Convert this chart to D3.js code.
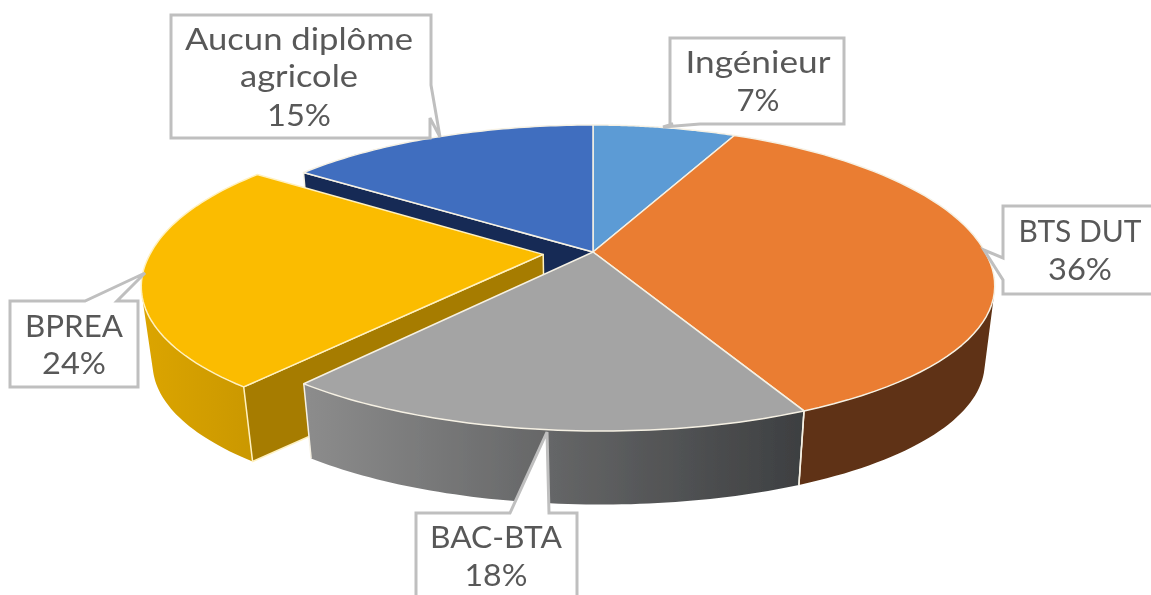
<!DOCTYPE html>
<html lang="fr">
<head>
<meta charset="utf-8">
<script src="https://d3js.org/d3.v7.min.js"></script>
<style>
  body { margin: 0; background: #fff; }
  svg { display: block; }
  text { font-family: Lato, "Open Sans", sans-serif; font-size: 30px; fill: #595959; text-anchor: middle; }
</style>
</head>
<body>
<div id="my_dataviz"></div>
<script>

// data
var categories = ["Ingénieur", "BTS DUT", "BAC-BTA", "BPREA", "Aucun diplôme agricole"];
var values = [7, 36, 18, 24, 15];
var labelLines = [["Ingénieur", "7%"], ["BTS DUT", "36%"], ["BAC-BTA", "18%"], ["BPREA", "24%"], ["Aucun diplôme", "agricole", "15%"]];
var colors = ["#5b9bd5", "#ea7d31", "#a4a4a4", "#fbbc00", "#3f6ebf"];

// layout of the callouts (not data)
var callouts = [
  {cx: 758, y: [73, 111], w: [145, 43], pts: [[670,38],[844,38],[844,124],[700,124],[663,127],[673,124],[670,124]]},
  {cx: 1080, y: [242, 280], w: [123, 64], pts: [[1003,206],[1170,206],[1170,294],[1003,294],[1003,280],[984,250],[1003,258]]},
  {cx: 496, y: [548, 586], w: [132, 63], pts: [[416,513],[510,513],[547,432],[549,513],[577,513],[577,620],[416,620]]},
  {cx: 74, y: [337, 374], w: [98, 64], pts: [[10,301],[85,301],[145,273],[117,301],[138,301],[138,387],[10,387]]},
  {cx: 299, y: [50, 87, 126], w: [228, 118, 64], pts: [[171,15],[431,15],[431,85],[440,137],[430,118],[430,138],[171,138]]}
];

var width = 1151, height = 595;
var centerX = 593, centerY = 252;
var radiusX = 392, radiusY = 148.6, perspX = 0.2, perspY = 0.17;
var shearNear = 8, shearFar = 12;
var depth = 78, bottomScale = 0.975;
var explode = [0, 0, 0, 0.128, 0];

var svg = d3.select("#my_dataviz").append("svg")
  .attr("width", width)
  .attr("height", height);

var defs = svg.append("defs");
defs.append("filter").attr("id", "soft")
  .append("feGaussianBlur").attr("stdDeviation", 0.5);

function addGradient(id, x1, x2, c1, c2) {
  var g = defs.append("linearGradient").attr("id", id)
    .attr("gradientUnits", "userSpaceOnUse")
    .attr("x1", x1).attr("x2", x2).attr("y1", 0).attr("y2", 0);
  g.append("stop").attr("offset", 0).attr("stop-color", c1);
  g.append("stop").attr("offset", 1).attr("stop-color", c2);
}
addGradient("wallGray", 307, 803, "#8c8c8c", "#3d3f41");
addGradient("wallYellow", 140, 260, "#dca500", "#c99700");

var pie = d3.pie().sort(null)(values);
var line = d3.line();

// u,v are on the pie disc (v = 1 is the far side), z 0 = top, 1 = bottom
function project(u, v, z) {
  var f = z ? bottomScale : 1;
  var sx = f / (1 + perspX * v), sy = f / (1 + perspY * v);
  // the picture is not quite symmetric, nudge the near side and far left
  var skew = v < 0 ? -shearNear * v : shearFar * v * Math.min(0, u);
  return [centerX + radiusX * u * sx + skew, centerY - radiusY * v * sy + z * depth];
}

function offset(i) {
  var d = pie[i], mid = (d.startAngle + d.endAngle) / 2;
  return [explode[i] * Math.sin(mid), explode[i] * Math.cos(mid)];
}

function rimPoint(i, a, z) {
  var o = offset(i);
  return project(Math.sin(a) + o[0], Math.cos(a) + o[1], z);
}

function centerPoint(i, z) {
  var o = offset(i);
  return project(o[0], o[1], z);
}

function arcPoints(i, a0, a1, z) {
  var n = 60;
  return d3.range(n + 1).map(function(k) { return rimPoint(i, a0 + (a1 - a0) * k / n, z); });
}

function topPath(i) {
  var d = pie[i];
  return line([centerPoint(i, 0)].concat(arcPoints(i, d.startAngle, d.endAngle, 0))) + "Z";
}

// one small quad per step so the silhouette between both rims gets filled too.
// all quads wound the same way, otherwise overlaps cancel out
function wallPath(i, a0, a1) {
  var top = arcPoints(i, a0, a1, 0), bottom = arcPoints(i, a0, a1, 1);
  return d3.range(top.length - 1).map(function(k) {
    var q = [top[k], top[k + 1], bottom[k + 1], bottom[k]];
    if (d3.polygonArea(q) < 0) q.reverse();
    return line(q) + "Z";
  }).join("");
}

function cutPath(i, a) {
  return line([centerPoint(i, 0), rimPoint(i, a, 0), rimPoint(i, a, 1), centerPoint(i, 1)]) + "Z";
}

var rimStroke = "#f6f1e4";
var chart = svg.append("g").attr("filter", "url(#soft)");

function drawShape(path, fill, stroke) {
  chart.append("path")
    .attr("d", path)
    .attr("fill", fill)
    .attr("stroke", stroke || rimStroke)
    .attr("stroke-width", 1.5)
    .attr("stroke-linejoin", "round");
}

function drawWall(i, a0, a1, fill) {
  chart.append("path").attr("d", wallPath(i, a0, a1)).attr("fill", fill);
}

function drawSeam(i, a, stroke) {
  chart.append("path")
    .attr("d", line([rimPoint(i, a, 0), rimPoint(i, a, 1)]))
    .attr("fill", "none")
    .attr("stroke", stroke || rimStroke)
    .attr("stroke-width", 1.5);
}

// back to front
drawShape(cutPath(4, pie[4].startAngle), "#172c55");
drawWall(3, pie[3].startAngle, Math.PI * 1.6, "url(#wallYellow)");
drawShape(cutPath(3, pie[3].startAngle), "#a67c00", "#fff1c0");
drawShape(topPath(3), colors[3], "#fff1c0");
drawWall(1, Math.PI * 0.4, pie[1].endAngle, "#5f3212");
drawWall(2, pie[2].startAngle, pie[2].endAngle, "url(#wallGray)");
drawSeam(2, pie[2].startAngle);
drawSeam(2, pie[2].endAngle);
drawSeam(1, pie[1].endAngle);

[0, 1, 2, 4].forEach(function(i) {
  drawShape(topPath(i), colors[i]);
});

// callouts
var labels = svg.append("g").attr("filter", "url(#soft)");
callouts.forEach(function(c, i) {
  labels.append("path")
    .attr("d", line(c.pts) + "Z")
    .attr("fill", "#fff")
    .attr("stroke", "#bfbfbf")
    .attr("stroke-width", 3);
  labelLines[i].forEach(function(t, j) {
    labels.append("text")
      .attr("x", c.cx)
      .attr("y", c.y[j])
      .attr("textLength", c.w[j])
      .attr("lengthAdjust", "spacingAndGlyphs")
      .text(t);
  });
});

</script>
</body>
</html>
